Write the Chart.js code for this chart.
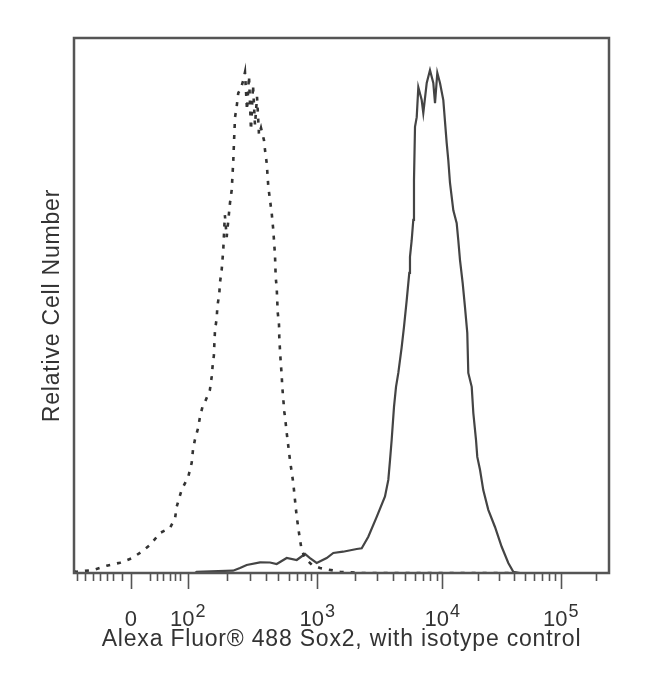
<!DOCTYPE html>
<html>
<head>
<meta charset="utf-8">
<script src="https://cdn.jsdelivr.net/npm/chart.js"></script>
<style>
  html, body { margin: 0; padding: 0; background: #fff; }
</style>
</head>
<body>
<canvas id="histChart" width="650" height="695"></canvas>
<script>
// x values are display channels (0-1000 across the plot), y is relative cell number (0-100)
const isoX = [0, 5, 35.5, 61, 86, 108, 126.5, 142, 161, 179.4, 189, 192, 201, 213.6, 220, 222.4, 226, 232, 235.5, 241,
  245, 254, 257.4, 259, 261.5, 262.5, 263.6, 266.7, 268, 271.6, 273, 276, 279, 282, 285.4, 291.6, 294.8, 297.8, 299, 301,
  304, 307, 312, 316.4, 319.6, 323.4, 327.1, 330.8, 334.6, 338.3, 342.1, 345.8, 349.5, 355.1, 357, 360.2, 363.2, 366.4, 369.5, 372.5,
  375.7, 377, 378.9, 380, 380.7, 383.2, 383.7, 385, 386.4, 388.2, 389.3, 391.2, 393.1, 394.4, 397.6, 403.7, 409.9, 413.1, 416.3, 422.4,
  425.6, 431.8, 444.9, 459.8, 497.2, 534.6, 824.3];
const isoY = [0.3, 0.24, 0.56, 1.36, 1.93, 2.75, 3.98, 5.23, 7.5, 8.4, 10.3, 12.4, 15.5, 18, 20.6, 23, 24.9, 27.1, 29.2, 31.4,
  32, 34.2, 36.7, 38.6, 40.7, 43.2, 45.4, 47.6, 49.8, 52.3, 54.4, 56.6, 60.4, 66.9, 62.8, 69.2, 71.6, 77.2, 80.4, 85.2,
  87.1, 89.7, 90.6, 92.1, 93.6, 86.5, 92.9, 82.8, 91.2, 83.7, 89, 81.9, 83.2, 80.9, 79.1, 76.6, 72.2, 69.7, 67.3, 64.1,
  59.4, 55.3, 53.3, 50.7, 48.8, 46.4, 44.1, 41.7, 39.4, 37, 34.8, 32.5, 30.1, 29.2, 26.2, 21.1, 16.8, 13.6, 10.5, 6.2,
  4.3, 2.8, 1.5, 0.93, 0.24, 0, 0];

const soxX = [0, 226.2, 229.3, 297.2, 310.3, 322.8, 347.7, 366.4, 378.9, 397.6, 416.3, 431.8, 441.1, 453.6, 472.3, 484.7, 502.8, 528.4, 537.8, 550.1,
  565.8, 581.3, 587.5, 590.7, 593.8, 598.1, 601.9, 606.2, 612.5, 616.8, 621.9, 626.7, 628, 631.2, 634.2, 635.5, 637.4, 640.6, 643.6, 649.9,
  652.9, 659.3, 665.4, 671.6, 674.8, 679.1, 684.1, 690.3, 696.6, 699.6, 702.8, 709, 715.3, 718.3, 721.5, 726.5, 730.8, 735.1, 737, 743.4,
  746.4, 751.4, 753.8, 758.9, 765, 774.4, 786.9, 799.4, 811.8, 821.1, 833.6, 1000];
const soxY = [0, 0, 0.24, 0.43, 0.93, 1.5, 2.0, 1.96, 1.68, 2.8, 2.43, 3.55, 2.8, 1.87, 2.8, 3.74, 3.98, 4.49, 4.62, 6.78,
  10.5, 14.3, 17.4, 21.1, 24.9, 31, 34.8, 37.4, 42.2, 46, 51, 56.1, 59.1, 62.2, 66, 73.4, 83.4, 85.2, 90.8, 88.4,
  86, 91.6, 94, 91.6, 87.8, 93.5, 91.6, 88.4, 80.4, 77.2, 72.9, 67.8, 65.4, 62.2, 58.5, 54.2, 49.7, 44.9, 37.4, 34.8,
  29.9, 24.9, 21.7, 19.3, 15.5, 11.8, 8.6, 4.9, 1.87, 0.24, 0, 0];

// tick marks on the biexponential axis (in channels)
const majorTicks = [106.5, 212.5, 454.8, 688.4, 909.7];
const majorBase = ['0', '10', '10', '10', '10'];
const majorExp = ['', '2', '3', '4', '5'];
const linearMinorTicks = [6.2, 20.6, 36.1, 48.6, 61.1, 73.5, 89.2, 142.1, 154.6, 166.9, 179.4, 188.8, 198.1];

// minor ticks inside log decades: 2..9 times the decade
const minorTicks = linearMinorTicks.slice();
for (let i = 1; i < majorTicks.length; i++) {
    const lo = majorTicks[i];
    const w = i + 1 < majorTicks.length ? majorTicks[i + 1] - lo : majorTicks[i] - majorTicks[i - 1];
    for (let n = 2; n <= 9; n++) {
        const v = lo + w * Math.log10(n);
        if (v <= 1000) minorTicks.push(v);
    }
}

const FONT = '"Liberation Sans", Arial, Helvetica, sans-serif';
const TEXT = '#333';

const toPoints = (xs, ys) => xs.map((x, i) => ({ x: x, y: ys[i] }));

// the axis titles in the picture are set a little wider than plain Arial
const wideTitles = {
    id: 'wideTitles',
    beforeDraw(chart) {
        chart.ctx.letterSpacing = '0.8px';
    }
};

const frameAndTicks = {
    id: 'frameAndTicks',
    afterDraw(chart) {
        const ctx = chart.ctx;
        const a = chart.chartArea;
        const xs = chart.scales.x;

        ctx.save();
        ctx.letterSpacing = '0px';
        // ticks under the axis
        ctx.strokeStyle = '#555';
        ctx.lineWidth = 1.6;
        ctx.beginPath();
        minorTicks.forEach(v => {
            const x = Math.round(xs.getPixelForValue(v)) + 0.5;
            ctx.moveTo(x, a.bottom);
            ctx.lineTo(x, a.bottom + 8);
        });
        majorTicks.forEach(v => {
            const x = Math.round(xs.getPixelForValue(v)) + 0.5;
            ctx.moveTo(x, a.bottom);
            ctx.lineTo(x, a.bottom + 16);
        });
        ctx.stroke();

        // frame round the plot
        ctx.strokeStyle = '#555';
        ctx.lineWidth = 2.5;
        ctx.strokeRect(a.left, a.top, a.right - a.left, a.bottom - a.top);

        // tick labels with superscripts
        ctx.fillStyle = TEXT;
        ctx.textBaseline = 'alphabetic';
        ctx.textAlign = 'left';
        majorTicks.forEach((v, i) => {
            const x = xs.getPixelForValue(v);
            ctx.font = '22px ' + FONT;
            const wb = ctx.measureText(majorBase[i]).width;
            ctx.font = '18px ' + FONT;
            const we = majorExp[i] ? ctx.measureText(majorExp[i]).width + 1 : 0;
            const x0 = x - (wb + we) / 2;
            ctx.font = '22px ' + FONT;
            ctx.fillText(majorBase[i], x0, a.bottom + 53);
            if (majorExp[i]) {
                ctx.font = '18px ' + FONT;
                ctx.fillText(majorExp[i], x0 + wb + 1, a.bottom + 44);
            }
        });
        ctx.restore();
    }
};

new Chart(document.getElementById('histChart'), {
    type: 'line',
    data: {
        datasets: [{
            label: 'Isotype control',
            data: toPoints(isoX, isoY),
            borderColor: '#333',
            borderWidth: 2.6,
            borderDash: [4, 7],
            pointRadius: 0,
            tension: 0,
            fill: false
        }, {
            label: 'Sox2',
            data: toPoints(soxX, soxY),
            borderColor: '#444',
            borderWidth: 2.2,
            pointRadius: 0,
            tension: 0,
            fill: false
        }]
    },
    options: {
        responsive: false,
        animation: false,
        devicePixelRatio: 1,
        layout: {
            padding: { top: 38, right: 41, bottom: 0, left: 0 }
        },
        plugins: {
            legend: { display: false },
            tooltip: { enabled: false },
            title: { display: false }
        },
        scales: {
            x: {
                type: 'linear',
                min: 0,
                max: 1000,
                grid: { display: false },
                border: { display: false },
                ticks: { display: false },
                title: {
                    display: true,
                    text: 'Alexa Fluor® 488 Sox2, with isotype control',
                    color: TEXT,
                    font: { family: FONT, size: 23 },
                    padding: { top: 0, bottom: 42 }
                },
                afterFit(scale) { scale.height = 122; }
            },
            y: {
                min: 0,
                max: 100,
                grid: { display: false },
                border: { display: false },
                ticks: { display: false },
                title: {
                    display: true,
                    text: 'Relative Cell Number',
                    color: TEXT,
                    font: { family: FONT, size: 23 },
                    padding: { top: 39, bottom: 0 }
                },
                afterFit(scale) { scale.width = 74; }
            }
        }
    },
    plugins: [wideTitles, frameAndTicks]
});
</script>
</body>
</html>
